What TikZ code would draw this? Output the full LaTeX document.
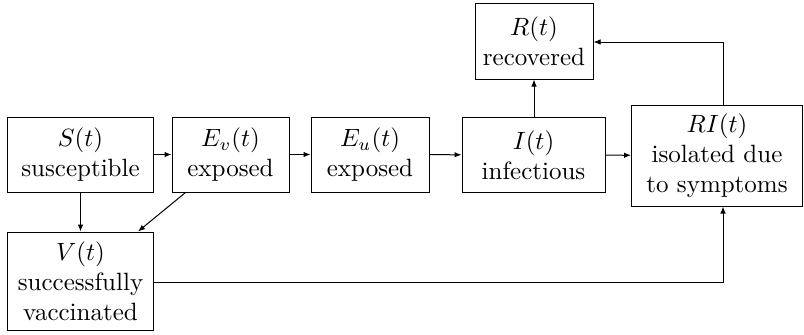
\documentclass[tikz,border=0pt]{standalone}
\usetikzlibrary{arrows.meta}
\begin{document}
\begin{tikzpicture}[x=0.4pt,y=-0.4pt,
  box/.style={draw,rectangle,align=center,inner sep=0pt,line width=0.4pt},
  flow/.style={-{Latex[length=2.8pt,width=2.2pt]},line width=0.4pt}]
\useasboundingbox (0,0) rectangle (804,334);
\node[box,minimum width=58pt,minimum height=30pt] (S) at (80.5,154.5) {$S(t)$\\susceptible};
\node[box,minimum width=46.8pt,minimum height=30pt] (Ev) at (230.5,154.5) {$E_v(t)$\\exposed};
\node[box,minimum width=47.2pt,minimum height=30pt] (Eu) at (370,154.5) {$E_u(t)$\\exposed};
\node[box,minimum width=57.2pt,minimum height=30pt] (I) at (533.5,155) {$I(t)$\\infectious};
\node[box,minimum width=47.2pt,minimum height=30.4pt] (R) at (534,41) {$R(t)$\\recovered};
\node[box,minimum width=68.4pt,minimum height=40.4pt] (RI) at (717,155.5) {$RI(t)$\\isolated due\\to symptoms};
\node[box,minimum width=58pt,minimum height=39.2pt] (V) at (80.5,281) {$V(t)$\\successfully\\vaccinated};
\draw[flow] (S) -- (Ev);
\draw[flow] (Ev) -- (Eu);
\draw[flow] (Eu) -- (I);
\draw[flow] (I) -- (RI);
\draw[flow] (S) -- (V);
\draw[flow] (Ev.south) ++(-45,0) coordinate (evs) -- (V.north -| 138,0);
\draw[flow] (I.north -| R.south) -- (R.south);
\draw[flow] (RI.north -| 723,0) |- (R.east |- 0,42);
\draw[flow] (V.east |- 0,282) -| (RI.south -| 723,0);
\end{tikzpicture}
\end{document}
